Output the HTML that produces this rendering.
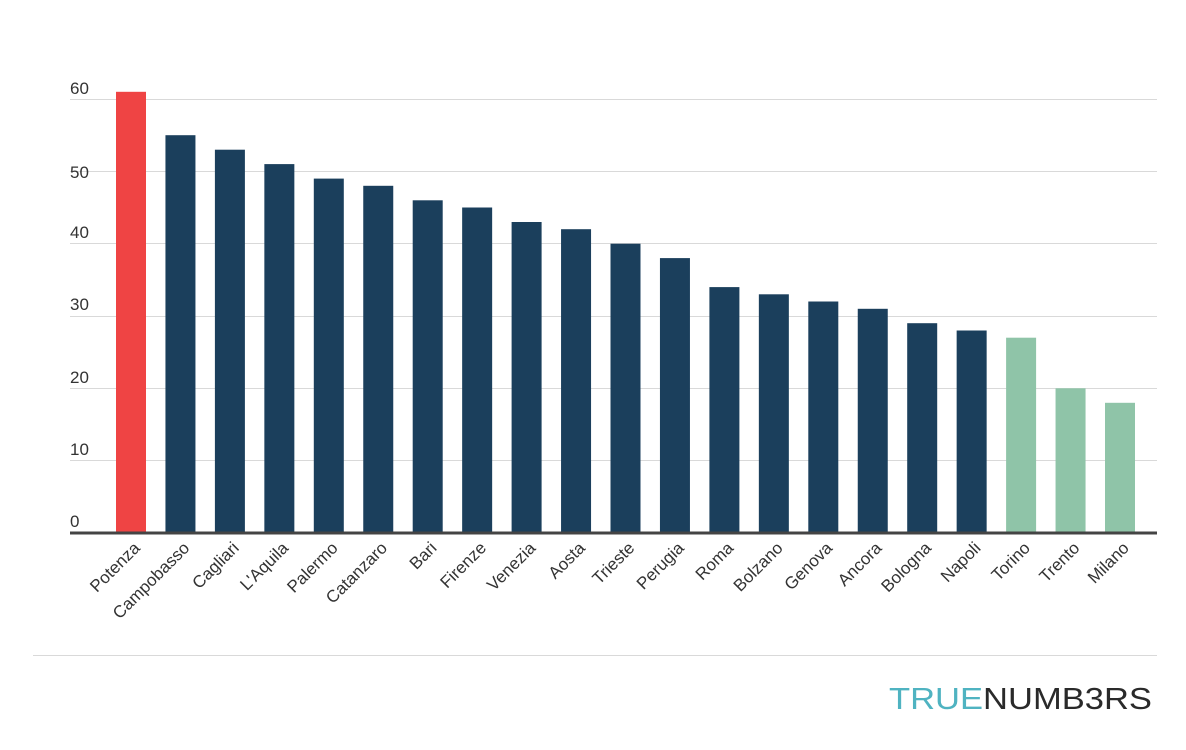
<!DOCTYPE html>
<html><head><style>body{margin:0;background:#fff}svg{display:block}</style></head><body>
<svg width="1186" height="750" xmlns="http://www.w3.org/2000/svg" font-family="Liberation Sans, sans-serif">
<g stroke="#d9d9d9" stroke-width="1">
<line x1="70" x2="1157" y1="99.5" y2="99.5"/><line x1="70" x2="1157" y1="171.5" y2="171.5"/><line x1="70" x2="1157" y1="243.5" y2="243.5"/><line x1="70" x2="1157" y1="316.5" y2="316.5"/><line x1="70" x2="1157" y1="388.5" y2="388.5"/><line x1="70" x2="1157" y1="460.5" y2="460.5"/>
<line x1="33" x2="1157" y1="655.5" y2="655.5"/>
</g>
<g fill="#333" font-size="17">
<text x="70" y="94">60</text><text x="70" y="178">50</text><text x="70" y="238">40</text><text x="70" y="310">30</text><text x="70" y="383">20</text><text x="70" y="455">10</text><text x="70" y="527">0</text>
</g>
<g fill="#1b3f5c">
<rect x="116" y="91.8" width="30" height="441.2" fill="#ef4444"/>
<rect x="165.45" y="135.2" width="30" height="397.8"/>
<rect x="214.9" y="149.7" width="30" height="383.3"/>
<rect x="264.35" y="164.1" width="30" height="368.9"/>
<rect x="313.8" y="178.6" width="30" height="354.4"/>
<rect x="363.25" y="185.8" width="30" height="347.2"/>
<rect x="412.7" y="200.3" width="30" height="332.7"/>
<rect x="462.15" y="207.5" width="30" height="325.5"/>
<rect x="511.6" y="222" width="30" height="311"/>
<rect x="561.05" y="229.2" width="30" height="303.8"/>
<rect x="610.5" y="243.7" width="30" height="289.3"/>
<rect x="659.95" y="258.1" width="30" height="274.9"/>
<rect x="709.4" y="287.1" width="30" height="245.9"/>
<rect x="758.85" y="294.3" width="30" height="238.7"/>
<rect x="808.3" y="301.5" width="30" height="231.5"/>
<rect x="857.75" y="308.8" width="30" height="224.2"/>
<rect x="907.2" y="323.2" width="30" height="209.8"/>
<rect x="956.65" y="330.5" width="30" height="202.5"/>
<rect x="1006.1" y="337.7" width="30" height="195.3" fill="#8fc4a8"/>
<rect x="1055.55" y="388.3" width="30" height="144.7" fill="#8fc4a8"/>
<rect x="1105" y="402.8" width="30" height="130.2" fill="#8fc4a8"/>
</g>
<line x1="70" x2="1157" y1="533" y2="533" stroke="#444" stroke-width="3"/>
<g fill="#333" font-size="17" text-anchor="end">
<text transform="translate(141,549) rotate(-45)">Potenza</text>
<text transform="translate(190.45,549) rotate(-45)">Campobasso</text>
<text transform="translate(239.9,549) rotate(-45)">Cagliari</text>
<text transform="translate(289.35,549) rotate(-45)">L'Aquila</text>
<text transform="translate(338.8,549) rotate(-45)">Palermo</text>
<text transform="translate(388.25,549) rotate(-45)">Catanzaro</text>
<text transform="translate(437.7,549) rotate(-45)">Bari</text>
<text transform="translate(487.15,549) rotate(-45)">Firenze</text>
<text transform="translate(536.6,549) rotate(-45)">Venezia</text>
<text transform="translate(586.05,549) rotate(-45)">Aosta</text>
<text transform="translate(635.5,549) rotate(-45)">Trieste</text>
<text transform="translate(684.95,549) rotate(-45)">Perugia</text>
<text transform="translate(734.4,549) rotate(-45)">Roma</text>
<text transform="translate(783.85,549) rotate(-45)">Bolzano</text>
<text transform="translate(833.3,549) rotate(-45)">Genova</text>
<text transform="translate(882.75,549) rotate(-45)">Ancora</text>
<text transform="translate(932.2,549) rotate(-45)">Bologna</text>
<text transform="translate(981.65,549) rotate(-45)">Napoli</text>
<text transform="translate(1031.1,549) rotate(-45)">Torino</text>
<text transform="translate(1080.55,549) rotate(-45)">Trento</text>
<text transform="translate(1130,549) rotate(-45)">Milano</text>
</g>
<text x="889" y="709" font-size="31" textLength="263" lengthAdjust="spacingAndGlyphs"><tspan fill="#4fb3c1">TRUE</tspan><tspan fill="#2a2a2a">NUMB3RS</tspan></text>
</svg>
</body></html>
